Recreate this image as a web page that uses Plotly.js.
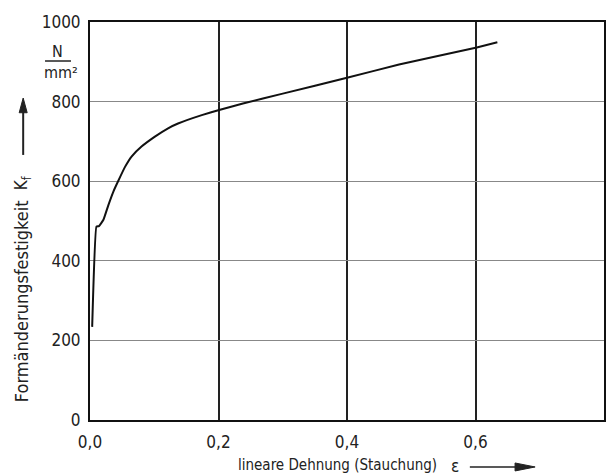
<!DOCTYPE html>
<html>
<head>
<meta charset="utf-8">
<script src="https://cdn.plot.ly/plotly-3.0.1.min.js"></script>
<style>html,body{margin:0;padding:0;background:#fff;}#chart{width:615px;height:475px;}</style>
</head>
<body>
<div id="chart"></div>
<script>
// Dehnung (epsilon) and Formänderungsfestigkeit k_f (N/mm²)
const strain = [0.0034, 0.010, 0.014, 0.0209, 0.0286, 0.0364, 0.0441, 0.0545, 0.0647, 0.0802, 0.101, 0.1215, 0.137, 0.174, 0.201, 0.238, 0.30, 0.40, 0.481, 0.602, 0.634];
const kf     = [234,    486,   487,   503,    540,    574,    601,    636,    662,    687,    712,   733,    745,   766,   779,   795,   820,  860,  893,   936,   949];
const xTicks = [0, 0.2, 0.4, 0.6, 0.8];
const xTickText = ['0,0', '0,2', '0,4', '0,6', '0,8'];
const yTicks = [0, 200, 400, 600, 800, 1000];

const FONT = 'DejaVu Sans Condensed, Liberation Sans Narrow, sans-serif';

const trace = {
  x: strain, y: kf, type: 'scatter', mode: 'lines',
  line: {color: '#111', width: 2, shape: 'spline', smoothing: 0.3},
  hoverinfo: 'skip'
};

const layout = {
  width: 615, height: 475,
  margin: {l: 90, r: 11, t: 22, b: 55},
  paper_bgcolor: '#fff', plot_bgcolor: '#fff',
  font: {family: FONT, size: 17, color: '#222'},
  showlegend: false,
  xaxis: {
    range: [0, 0.8], tickvals: xTicks, ticktext: xTickText,
    showgrid: true, gridcolor: '#222', gridwidth: 2,
    showline: true, linecolor: '#111', linewidth: 2, mirror: true,
    zeroline: false, ticks: '', fixedrange: true, ticklabelstandoff: 6,
    tickfont: {family: FONT, size: 17, color: '#222'}
  },
  yaxis: {
    range: [0, 1000], tickvals: yTicks,
    showgrid: true, gridcolor: '#888', gridwidth: 1,
    showline: true, linecolor: '#111', linewidth: 2, mirror: true,
    zeroline: false, ticks: '', fixedrange: true, ticklabelstandoff: 4,
    tickfont: {family: FONT, size: 17, color: '#222'}
  },
  annotations: [
    {text: 'N', xref: 'paper', yref: 'paper', x: -0.063, y: 0.925, xanchor: 'center', yanchor: 'middle', showarrow: false, font: {family: FONT, size: 16, color: '#222'}},
    {text: 'mm²', xref: 'paper', yref: 'paper', x: -0.0555, y: 0.872, xanchor: 'center', yanchor: 'middle', showarrow: false, font: {family: FONT, size: 16, color: '#222'}},
    {text: 'Formänderungsfestigkeit', xref: 'paper', yref: 'paper', x: -0.132, y: 0.299, textangle: -90, xanchor: 'center', yanchor: 'middle', showarrow: false, font: {family: FONT, size: 18, color: '#222'}},
    {text: 'K<sub>f</sub>', xref: 'paper', yref: 'paper', x: -0.132, y: 0.595, textangle: -90, xanchor: 'center', yanchor: 'middle', showarrow: false, font: {family: FONT, size: 17, color: '#222'}},
    {text: 'lineare Dehnung (Stauchung)', xref: 'paper', yref: 'paper', x: 0.482, y: -0.113, xanchor: 'center', yanchor: 'middle', showarrow: false, font: {family: FONT, size: 15, color: '#222'}},
    {text: 'ε', xref: 'paper', yref: 'paper', x: 0.710, y: -0.116, xanchor: 'center', yanchor: 'middle', showarrow: false, font: {family: FONT, size: 17, color: '#222'}}
  ],
  shapes: [
    {type: 'line', xref: 'paper', yref: 'paper', x0: -0.0875, x1: -0.037, y0: 0.902, y1: 0.902, line: {color: '#222', width: 1.5}},
    {type: 'line', xref: 'paper', yref: 'paper', x0: -0.130, x1: -0.130, y0: 0.666, y1: 0.776, line: {color: '#222', width: 2}},
    {type: 'path', xref: 'paper', yref: 'paper', path: 'M -0.1378 0.772 L -0.1222 0.772 L -0.130 0.809 Z', fillcolor: '#222', line: {color: '#222', width: 1}},
    {type: 'line', xref: 'paper', yref: 'paper', x0: 0.739, x1: 0.830, y0: -0.118, y1: -0.118, line: {color: '#222', width: 1.5}},
    {type: 'path', xref: 'paper', yref: 'paper', path: 'M 0.827 -0.108 L 0.827 -0.128 L 0.866 -0.118 Z', fillcolor: '#222', line: {color: '#222', width: 1}}
  ]
};

Plotly.newPlot('chart', [trace], layout, {displayModeBar: false, staticPlot: true});
</script>
</body>
</html>
